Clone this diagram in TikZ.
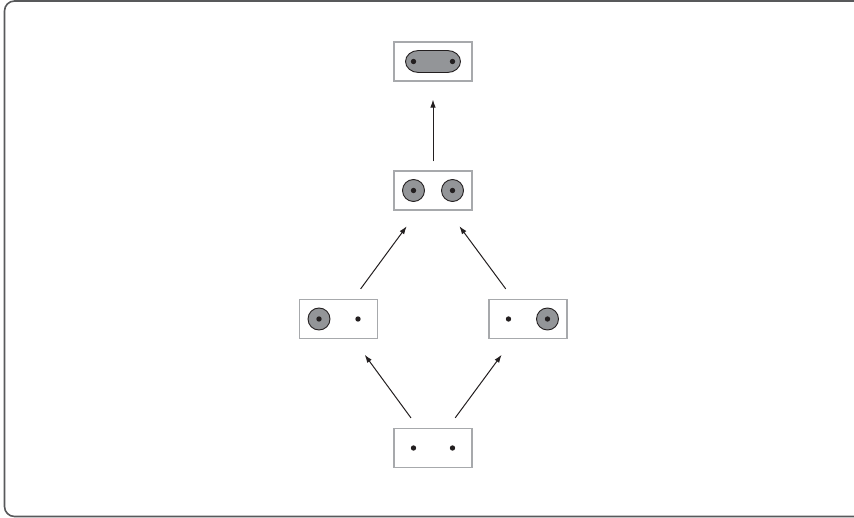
\documentclass[tikz,border=0pt]{standalone}
\usetikzlibrary{arrows.meta}
\definecolor{cadre}{HTML}{58595B}
\definecolor{bord}{HTML}{A7A9AC}
\definecolor{gris}{HTML}{939598}
\definecolor{encre}{HTML}{231F20}

\begin{document}
\begin{tikzpicture}[x=1pt,y=-1pt]
    % Styles
    \tikzset{fleche/.style={-{Latex[length=8pt,width=5.5pt]}, encre, line width=1pt}}%
    \tikzset{boite/.style={draw=bord, line width=1.1pt, minimum width=78pt, minimum height=39pt, inner sep=0pt}}%
    \tikzset{point/.pic={\fill[encre] (0,0) circle[radius=2.7];}}%
    \tikzset{disque/.pic={\filldraw[fill=gris, draw=encre, line width=0.9pt] (0,0) circle[radius=11];%
        \fill[encre] (0,0) circle[radius=2.7];}}%
    \tikzset{capsule/.pic={\filldraw[fill=gris, draw=encre, line width=0.9pt]
        (-14.5,-11) -- (14.5,-11) arc[start angle=-90, end angle=90, x radius=13, y radius=11]
        -- (-14.5,11) arc[start angle=90, end angle=270, x radius=13, y radius=11] -- cycle;}}%

    % Cadre
    \useasboundingbox (0,0) rectangle (854,518);%
    \clip (0,0) rectangle (854,518);%
    \draw[cadre, line width=1.6pt, rounded corners=10pt] (4.5,1) rectangle (875,516.5);%

    % Boites
    \node[boite] (haut) at (433,61.5) {};%
    \node[boite] (paire) at (433,190.5) {};%
    \node[boite] (gauche) at (338.5,319) {};%
    \node[boite] (droite) at (528,319) {};%
    \node[boite] (bas) at (433,448) {};%

    % Contenu des boites
    \path (haut) pic {capsule};%
    \path ([xshift=-19.5pt]haut.center) pic {point};%
    \path ([xshift=19.5pt]haut.center) pic {point};%
    \path ([xshift=-19.5pt]paire.center) pic {disque};%
    \path ([xshift=19.5pt]paire.center) pic {disque};%
    \path ([xshift=-19.5pt]gauche.center) pic {disque};%
    \path ([xshift=19.5pt]gauche.center) pic {point};%
    \path ([xshift=-19.5pt]droite.center) pic {point};%
    \path ([xshift=19.5pt]droite.center) pic {disque};%
    \path ([xshift=-19.5pt]bas.center) pic {point};%
    \path ([xshift=19.5pt]bas.center) pic {point};%

    % Fleches
    \draw[fleche, shorten <=12.5pt, shorten >=19.5pt] (bas) -- (gauche);%
    \draw[fleche, shorten <=12.5pt, shorten >=19.5pt] (bas) -- (droite);%
    \draw[fleche, shorten <=12.5pt, shorten >=19.5pt] (gauche) -- (paire);%
    \draw[fleche, shorten <=12.5pt, shorten >=19.5pt] (droite) -- (paire);%
    \draw[fleche, shorten <=9pt, shorten >=18pt] (paire) -- (haut);%
\end{tikzpicture}
\end{document}
